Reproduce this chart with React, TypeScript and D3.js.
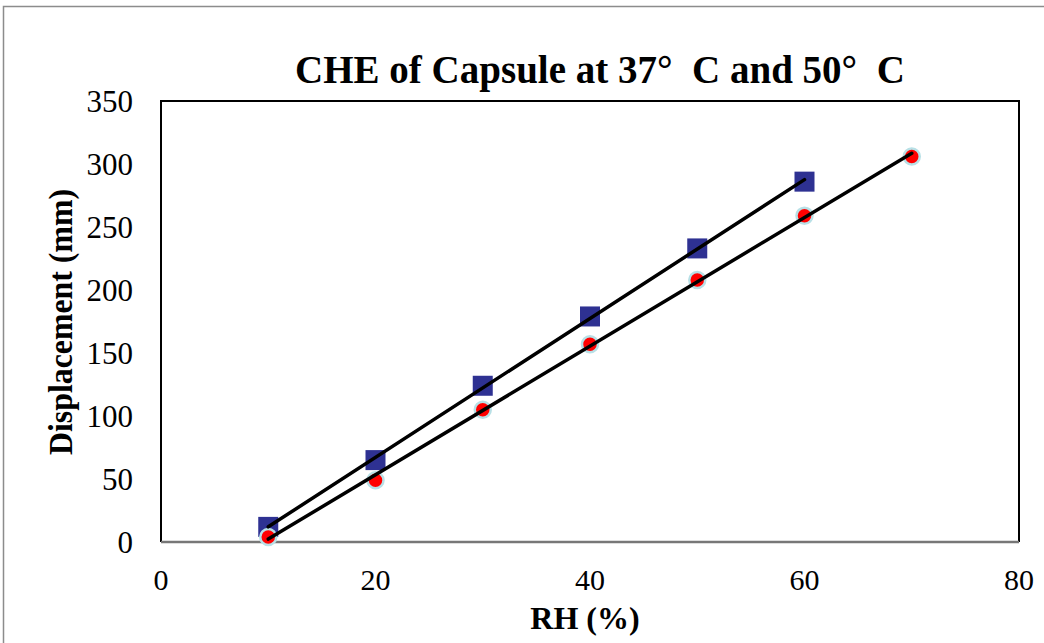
import { useMemo } from "react";
import * as d3 from "d3";

// RH (%) values
const rh37 = [10, 20, 30, 40, 50, 60, 70];
const disp37 = [4, 49, 105, 157, 208, 259, 306];
const rh50 = [10, 20, 30, 40, 50, 60];
const disp50 = [12, 65, 124, 179, 233, 286];
const xTicks = [0, 20, 40, 60, 80];
const yTicks = [0, 50, 100, 150, 200, 250, 300, 350];

const W = 1044;
const H = 643;
const margin = { top: 101, right: 25, bottom: 101, left: 161 };

// least squares fit, as Excel's linear trendline
const fit = (xs: number[], ys: number[]) => {
  const mx = d3.mean(xs)!;
  const my = d3.mean(ys)!;
  const sxy = d3.sum(xs, (x, i) => (x - mx) * (ys[i] - my));
  const sxx = d3.sum(xs, (x) => (x - mx) ** 2);
  const b = sxy / sxx;
  return { a: my - b * mx, b };
};

const App = () => {
  const x = useMemo(
    () => d3.scaleLinear().domain([0, 80]).range([margin.left, W - margin.right]),
    []
  );
  const y = useMemo(
    () => d3.scaleLinear().domain([0, 350]).range([H - margin.bottom, margin.top]),
    []
  );

  const f37 = fit(rh37, disp37);
  const f50 = fit(rh50, disp50);

  const trend = (xs: number[], f: { a: number; b: number }) => {
    const x0 = d3.min(xs)!;
    const x1 = d3.max(xs)!;
    return d3
      .line<[number, number]>()
      .x((d) => x(d[0]))
      .y((d) => y(d[1]))([
      [x0, f.a + f.b * x0],
      [x1, f.a + f.b * x1],
    ]);
  };

  const font = "'Liberation Serif', 'Times New Roman', serif";
  const x0 = x(0);
  const x1 = x(80);
  const yb = y(0);
  const yt = y(350);

  return (
    <svg
      width={W}
      height={H}
      style={{ position: "absolute", left: 0, top: 0, background: "#fff" }}
      fontFamily={font}
    >
      <rect x={3.5} y={6.5} width={W + 10} height={H + 10} fill="#fff" stroke="#8c8c8c" strokeWidth={1.5} />

      <text
        x={600}
        y={83}
        textAnchor="middle"
        fontSize={39}
        fontWeight="bold"
        xmlSpace="preserve"
        style={{ whiteSpace: "pre" }}
      >
        {"CHE of Capsule at 37°  C and 50°  C"}
      </text>

      {/* plot frame */}
      <path d={`M${x0},${yb}V${yt}H${x1}V${yb}`} fill="none" stroke="#000" strokeWidth={2} />
      <line x1={x0} x2={x1} y1={yb} y2={yb} stroke="#777" strokeWidth={2.5} />

      {yTicks.map((t) => (
        <text key={t} x={133} y={y(t) + 11} textAnchor="end" fontSize={31}>
          {t}
        </text>
      ))}
      {xTicks.map((t) => (
        <text key={t} x={x(t)} y={590} textAnchor="middle" fontSize={30}>
          {t}
        </text>
      ))}

      <text x={585} y={629} textAnchor="middle" fontSize={32} fontWeight="bold">
        RH (%)
      </text>
      <text
        transform={`translate(72,322) rotate(-90)`}
        textAnchor="middle"
        fontSize={33}
        fontWeight="bold"
        textLength={266}
        lengthAdjust="spacingAndGlyphs"
      >
        Displacement (mm)
      </text>

      {/* 50 °C squares */}
      {rh50.map((r, i) => (
        <rect
          key={`s${i}`}
          x={x(r) - 10}
          y={y(disp50[i]) - 10}
          width={20}
          height={20}
          fill="#2e3192"
        />
      ))}
      {/* 37 °C circles */}
      {rh37.map((r, i) => (
        <circle
          key={`c${i}`}
          cx={x(r)}
          cy={y(disp37[i])}
          r={8}
          fill="#ff0000"
          stroke="#b8e0e6"
          strokeWidth={2.5}
        />
      ))}

      <path d={trend(rh50, f50) ?? ""} fill="none" stroke="#000" strokeWidth={3.5} strokeLinecap="round" />
      <path d={trend(rh37, f37) ?? ""} fill="none" stroke="#000" strokeWidth={3.5} strokeLinecap="round" />
    </svg>
  );
};

export default App;
